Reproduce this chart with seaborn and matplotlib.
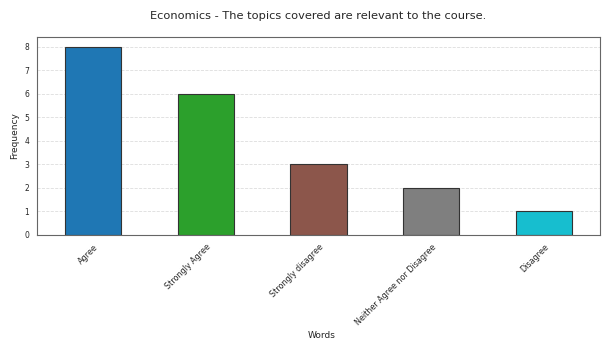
import matplotlib
matplotlib.use("Agg")
import matplotlib.pyplot as plt
import pandas as pd
import seaborn as sns

# ---------------------------------------------------------------------------
# Data
# ---------------------------------------------------------------------------
words = ["Agree", "Strongly Agree", "Strongly disagree",
         "Neither Agree nor Disagree", "Disagree"]
frequency = [8, 6, 3, 2, 1]
bar_colors = ["#1f77b4", "#2ca02c", "#8c564b", "#7f7f7f", "#17becf"]

df = pd.DataFrame({"Words": words, "Frequency": frequency})

sns.set_style("white")
plt.rcParams["font.family"] = ["DejaVu Sans"]

fig = plt.figure(figsize=(6.02, 3.47), dpi=100)
ax = fig.add_axes([0.061, 0.323, 0.936, 0.570])

sns.barplot(
    data=df,
    x="Words",
    y="Frequency",
    hue="Words",
    palette=bar_colors,
    saturation=1,
    width=0.5,
    edgecolor="#333333",
    linewidth=0.8,
    legend=False,
    ax=ax,
)

ax.set_xlim(-0.5, len(words) - 0.5)
ax.set_ylim(0, max(frequency) * 1.05)
ax.set_yticks(range(0, max(frequency) + 1))
ax.grid(axis="y", linestyle="--", color="#dddddd", linewidth=0.6)
ax.set_axisbelow(True)

ax.set_xticks(range(len(words)))
ax.set_xticklabels(words, rotation=45, ha="right", rotation_mode="anchor", fontsize=5.8)
ax.tick_params(axis="y", labelsize=5.5, length=2)
ax.tick_params(axis="x", length=2)
ax.set_xlabel("Words", fontsize=6.5)
ax.xaxis.set_label_coords(0.505, -0.485)
ax.set_ylabel("Frequency", fontsize=6.5)
ax.set_title("Economics - The topics covered are relevant to the course.", fontsize=8.2, pad=13)

for spine in ax.spines.values():
    spine.set_color("#666666")
    spine.set_linewidth(0.8)

fig.savefig("out.png", dpi=100)
